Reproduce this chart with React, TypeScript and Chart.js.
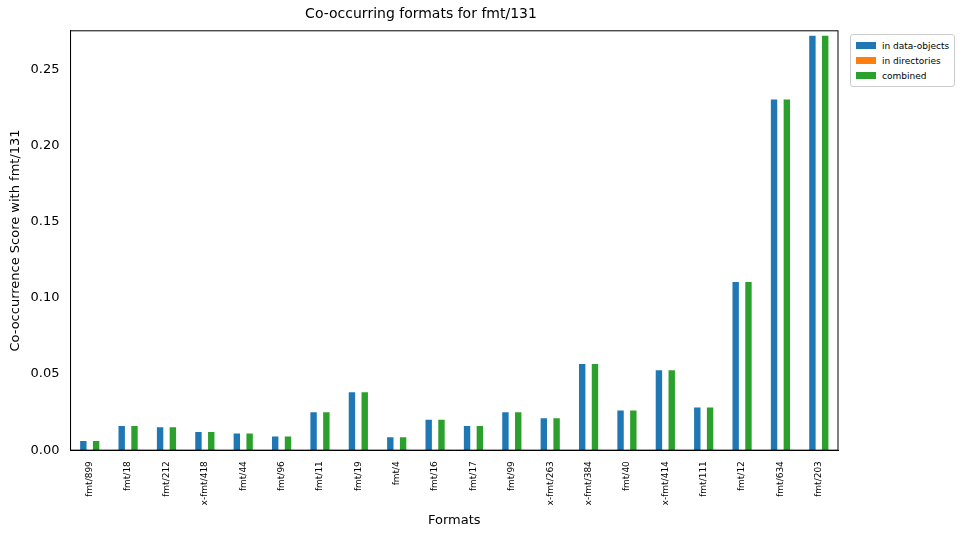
import React, { useEffect, useRef } from 'react';
import Chart from 'chart.js/auto';

const formats = ['fmt/899', 'fmt/18', 'fmt/212', 'x-fmt/418', 'fmt/44', 'fmt/96', 'fmt/11', 'fmt/19', 'fmt/4', 'fmt/16',
  'fmt/17', 'fmt/99', 'x-fmt/263', 'x-fmt/384', 'fmt/40', 'x-fmt/414', 'fmt/111', 'fmt/12', 'fmt/634', 'fmt/203'];
const inDataObjects = [0.006, 0.0158, 0.015, 0.012, 0.011, 0.009, 0.025, 0.038, 0.0085, 0.020,
  0.0158, 0.025, 0.021, 0.0566, 0.026, 0.0526, 0.028, 0.1105, 0.2305, 0.2725];
const inDirectories = formats.map(() => 0);
const combined = inDataObjects.slice();
const yTicks = [0, 0.05, 0.1, 0.15, 0.2, 0.25];

const legendItems = [
  { label: 'in data-objects', color: '#1f77b4' },
  { label: 'in directories', color: '#ff7f0e' },
  { label: 'combined', color: '#2ca02c' },
];

const frame = {
  id: 'frame',
  afterDraw(chart: any) {
    const { ctx, chartArea: a } = chart;
    ctx.save();
    ctx.strokeStyle = '#000';
    ctx.lineWidth = 1;
    ctx.strokeRect(a.left, a.top, a.right - a.left, a.bottom - a.top);
    ctx.restore();
  },
};

const App: React.FC = () => {
  const ref = useRef<HTMLCanvasElement>(null);

  useEffect(() => {
    document.body.style.margin = '0';
    if (!ref.current) return;
    const font = { family: 'DejaVu Sans' };
    const chart = new Chart(ref.current, {
      type: 'bar',
      data: {
        labels: formats,
        datasets: [
          { label: 'in data-objects', data: inDataObjects, backgroundColor: '#1f77b4' },
          { label: 'in directories', data: inDirectories, backgroundColor: '#ff7f0e' },
          { label: 'combined', data: combined, backgroundColor: '#2ca02c' },
        ],
      },
      options: {
        animation: false,
        responsive: false,
        layout: { padding: { left: 4, right: 128, top: 4, bottom: 4 } },
        datasets: { bar: { categoryPercentage: 0.5, barPercentage: 1 } },
        plugins: {
          legend: { display: false },
          tooltip: { enabled: false },
          title: { display: true, text: 'Co-occurring formats for fmt/131', color: '#000', font: { ...font, size: 14, weight: 'normal' }, padding: { top: 2, bottom: 8 } },
        },
        scales: {
          x: {
            grid: { display: false },
            border: { color: '#000' },
            ticks: { color: '#000', font: { ...font, size: 9 }, maxRotation: 90, minRotation: 90, autoSkip: false },
            title: { display: true, text: 'Formats', color: '#000', font: { ...font, size: 13 } },
          },
          y: {
            min: 0,
            max: 0.2757,
            grid: { display: false },
            border: { color: '#000' },
            afterBuildTicks: (s: any) => { s.ticks = yTicks.map(v => ({ value: v })); },
            ticks: { color: '#000', font: { ...font, size: 13 }, callback: (v: any) => Number(v).toFixed(2) },
            title: { display: true, text: 'Co-occurrence Score with fmt/131', color: '#000', font: { ...font, size: 13 } },
          },
        },
      },
      plugins: [frame],
    });
    return () => chart.destroy();
  }, []);

  return (
    <div style={{ position: 'relative', width: 966, height: 536 }}>
      <canvas ref={ref} width={966} height={536} />
      <div style={{ position: 'absolute', left: 850, top: 34, border: '1px solid #ccc', borderRadius: 3, padding: '3px 5px', background: '#fff', fontFamily: 'DejaVu Sans', fontSize: 9 }}>
        {legendItems.map(it => (
          <div key={it.label} style={{ display: 'flex', alignItems: 'center', height: 15 }}>
            <span style={{ display: 'inline-block', width: 20, height: 7, background: it.color, marginRight: 6 }} />
            {it.label}
          </div>
        ))}
      </div>
    </div>
  );
};

export default App;
